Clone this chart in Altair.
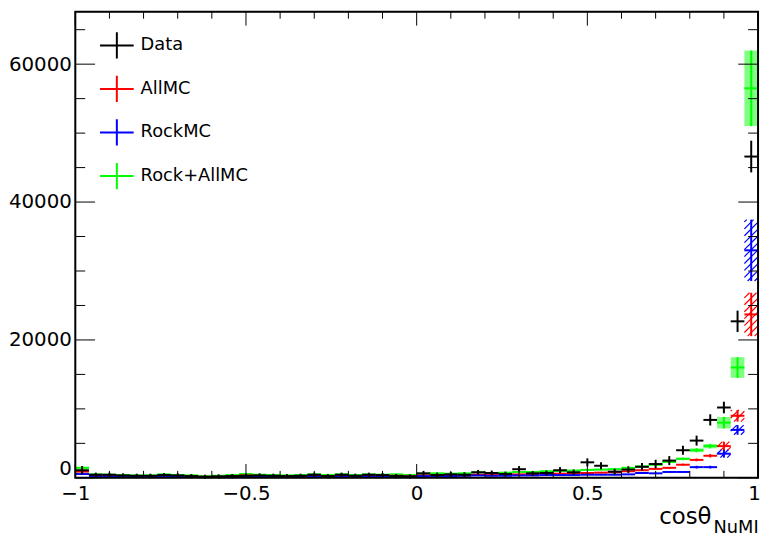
import altair as alt
import numpy as np
import pandas as pd

# ---------------- data (50 bins of cos theta, width 0.04) ----------------
bin_edges = np.round(np.linspace(-1.0, 1.0, 51), 2)

data_counts = [1100, 450, 450, 350, 300, 300, 400, 350, 250, 150,
               200, 250, 300, 350, 300, 250, 300, 450, 250, 450,
               300, 450, 400, 250, 200, 650, 400, 500, 450, 800,
               700, 550, 1250, 650, 700, 1100, 800, 2250, 1750, 900,
               1200, 1600, 2000, 2500, 4000, 5400, 8400, 10200, 22700, 46600]
data_errors = [600, 300, 300, 300, 300, 300, 300, 300, 300, 300,
               300, 300, 300, 300, 300, 300, 300, 300, 300, 300,
               300, 300, 300, 300, 300, 350, 350, 350, 350, 350,
               350, 350, 450, 350, 350, 450, 400, 570, 520, 420,
               480, 550, 620, 650, 650, 720, 810, 840, 1550, 2300]

allmc_counts = [900, 300, 250, 250, 200, 200, 300, 250, 200, 150,
                150, 250, 350, 250, 250, 200, 200, 300, 250, 300,
                250, 300, 250, 300, 250, 350, 400, 350, 350, 450,
                400, 450, 500, 500, 550, 600, 650, 700, 750, 800,
                950, 1100, 1300, 1450, 1900, 2600, 3200, 4600, 9000, 23700]
allmc_errors = [120, 60, 60, 60, 60, 60, 60, 60, 60, 60,
                60, 60, 60, 60, 60, 60, 60, 60, 60, 60,
                60, 60, 60, 60, 60, 60, 60, 60, 60, 70,
                70, 70, 70, 70, 70, 80, 80, 80, 80, 80,
                90, 100, 110, 120, 150, 200, 250, 650, 850, 3150]

rockmc_counts = [550, 200, 200, 150, 150, 150, 200, 150, 150, 100,
                 150, 150, 200, 200, 150, 150, 200, 200, 150, 200,
                 150, 200, 200, 200, 150, 250, 250, 250, 300, 350,
                 300, 300, 350, 350, 400, 400, 400, 450, 450, 450,
                 500, 700, 650, 850, 850, 1550, 1550, 3500, 6950, 33000]
rockmc_errors = [100, 50, 50, 50, 50, 50, 50, 50, 50, 50,
                 50, 50, 50, 50, 50, 50, 50, 50, 50, 50,
                 50, 50, 50, 50, 50, 50, 50, 50, 50, 60,
                 60, 60, 60, 60, 60, 60, 60, 60, 60, 60,
                 70, 80, 80, 90, 100, 200, 200, 570, 700, 4450]

sum_counts = [1450, 500, 450, 400, 350, 350, 500, 400, 350, 250,
              300, 400, 550, 450, 400, 350, 400, 500, 400, 500,
              400, 500, 450, 500, 400, 600, 650, 600, 650, 800,
              700, 750, 850, 850, 950, 1000, 1050, 1150, 1200, 1250,
              1450, 1650, 1900, 2300, 2750, 4000, 4600, 8000, 16000, 56500]
sum_errors = [160, 80, 80, 80, 80, 80, 80, 80, 80, 80,
              80, 80, 80, 80, 80, 80, 80, 80, 80, 80,
              80, 80, 80, 80, 80, 80, 80, 80, 80, 90,
              90, 90, 90, 90, 90, 100, 100, 100, 100, 100,
              110, 130, 140, 150, 180, 280, 320, 830, 1500, 5480]

series_names = ["Data", "AllMC", "RockMC", "Rock+AllMC"]
series_colors = ["#000000", "#ff0000", "#0000ff", "#00ff00"]

x_major = [-1.0, -0.5, 0.0, 0.5, 1.0]
x_minor = [-0.9, -0.8, -0.7, -0.6, -0.4, -0.3, -0.2, -0.1,
           0.1, 0.2, 0.3, 0.4, 0.6, 0.7, 0.8, 0.9]
y_major = [0, 20000, 40000, 60000]
y_minor = [5000, 10000, 15000, 25000, 30000, 35000, 45000, 50000, 55000, 65000]

# ---------------- tables ----------------
rows = []
for name, cnts, errs in [("Data", data_counts, data_errors),
                         ("AllMC", allmc_counts, allmc_errors),
                         ("RockMC", rockmc_counts, rockmc_errors),
                         ("Rock+AllMC", sum_counts, sum_errors)]:
    for i in range(50):
        lo, hi = float(bin_edges[i]), float(bin_edges[i + 1])
        rows.append({"series": name, "lo": lo, "hi": hi, "c": (lo + hi) / 2,
                     "v": cnts[i], "ylo": cnts[i] - errs[i], "yhi": cnts[i] + errs[i]})
df = pd.DataFrame(rows)
df_data = df[df.series == "Data"]
df_mc = df[df.series != "Data"]
mc_order = {"Rock+AllMC": 0, "AllMC": 1, "RockMC": 2}
df_mc = df_mc.assign(order=df_mc.series.map(mc_order)).sort_values("order")
df_green = df_mc[df_mc.series == "Rock+AllMC"]
df_hatch = df_mc[df_mc.series != "Rock+AllMC"]

W, H = 690, 471
YMAX = 67600
PX_X = W / 2.0          # pixels per unit of cos theta
PX_Y = H / YMAX         # pixels per count
FONT = "DejaVu Sans"

xs = alt.Scale(domain=[-1, 1], nice=False, zero=False)
ys = alt.Scale(domain=[0, YMAX], nice=False, zero=False)
xax = alt.Axis(values=x_major, format="~g", labelFontSize=20, labelFont=FONT,
               labelColor="#000000", ticks=False, domain=False, grid=False,
               labelPadding=6, labelFlush=False, title=None,
               labelOffset={"condition": {"test": "datum.value == 1", "value": -4}, "value": 0})
yax = alt.Axis(values=y_major, format="d", labelFontSize=20, labelFont=FONT,
               labelColor="#000000", ticks=False, domain=False, grid=False,
               labelPadding=4, labelFlush=False, title=None,
               labelOffset={"condition": {"test": "datum.value == 0", "value": -9}, "value": 0})

color = alt.Color("series:N", scale=alt.Scale(domain=series_names, range=series_colors),
                  legend=None)

# green error band (dotted fill in the original)
green_box = alt.Chart(df_green).mark_rect(color="#00ff00", opacity=0.5, strokeWidth=0).encode(
    x=alt.X("lo:Q", scale=xs, axis=xax), x2="hi:Q",
    y=alt.Y("ylo:Q", scale=ys, axis=yax), y2="yhi:Q")

# hatched error boxes for AllMC and RockMC
hatch = (alt.Chart(df_hatch)
         .transform_calculate(k="sequence(0, 16)")
         .transform_flatten(["k"])
         .transform_calculate(w=f"(datum.hi - datum.lo) * {PX_X}")
         .transform_calculate(h=f"(datum.yhi - datum.ylo) * {PX_Y}")
         .transform_calculate(cc="-datum.w + 7 * datum.k + 3.5")
         .transform_filter("datum.cc < datum.h && datum.h > 4")
         .transform_calculate(u0="max(0, -datum.cc)")
         .transform_calculate(u1="min(datum.w, datum.h - datum.cc)")
         .transform_calculate(hx=f"datum.lo + datum.u0 / {PX_X}")
         .transform_calculate(hx2=f"datum.lo + datum.u1 / {PX_X}")
         .transform_calculate(hy=f"datum.ylo + (datum.u0 + datum.cc) / {PX_Y}")
         .transform_calculate(hy2=f"datum.ylo + (datum.u1 + datum.cc) / {PX_Y}")
         .mark_rule(strokeWidth=1.2)
         .encode(x=alt.X("hx:Q", scale=xs, axis=xax), x2="hx2:Q",
                 y=alt.Y("hy:Q", scale=ys, axis=yax), y2="hy2:Q", color=color))

mc_h = alt.Chart(df_mc).mark_rule(strokeWidth=2).encode(
    x=alt.X("lo:Q", scale=xs, axis=xax), x2="hi:Q",
    y=alt.Y("v:Q", scale=ys, axis=yax), color=color)
mc_v = alt.Chart(df_mc).mark_rule(strokeWidth=2).encode(
    x=alt.X("c:Q", scale=xs, axis=xax),
    y=alt.Y("ylo:Q", scale=ys, axis=yax), y2="yhi:Q", color=color)
d_h = alt.Chart(df_data).mark_rule(strokeWidth=2).encode(
    x=alt.X("lo:Q", scale=xs, axis=xax), x2="hi:Q",
    y=alt.Y("v:Q", scale=ys, axis=yax), color=color)
d_v = alt.Chart(df_data).mark_rule(strokeWidth=2).encode(
    x=alt.X("c:Q", scale=xs, axis=xax),
    y=alt.Y("ylo:Q", scale=ys, axis=yax), y2="yhi:Q", color=color)

# ---- ticks (inside, ROOT style) ----
tx_major = pd.DataFrame({"t": x_major})
tx_minor = pd.DataFrame({"t": x_minor})
ty_major = pd.DataFrame({"t": y_major})
ty_minor = pd.DataFrame({"t": y_minor})


def xticks(df_t, length):
    b = alt.Chart(df_t).mark_rule(color="#000000", strokeWidth=1).encode(
        x=alt.X("t:Q", scale=xs, axis=xax), y=alt.value(H), y2=alt.value(H - length))
    t = alt.Chart(df_t).mark_rule(color="#000000", strokeWidth=1).encode(
        x=alt.X("t:Q", scale=xs, axis=xax), y=alt.value(0), y2=alt.value(length))
    return [b, t]


def yticks(df_t, length):
    l = alt.Chart(df_t).mark_rule(color="#000000", strokeWidth=1).encode(
        y=alt.Y("t:Q", scale=ys, axis=yax), x=alt.value(0), x2=alt.value(length))
    r = alt.Chart(df_t).mark_rule(color="#000000", strokeWidth=1).encode(
        y=alt.Y("t:Q", scale=ys, axis=yax), x=alt.value(W), x2=alt.value(W - length))
    return [l, r]


one = pd.DataFrame({"k": [0]})
frame = alt.Chart(one).mark_rect(fill="transparent", stroke="#000000", strokeWidth=2).encode(
    x=alt.value(0), x2=alt.value(W), y=alt.value(0), y2=alt.value(H))

title_main = alt.Chart(one).mark_text(text="cosθ", align="right", baseline="alphabetic",
                                      fontSize=23, font=FONT, color="#000000").encode(
    x=alt.value(643), y=alt.value(518))
title_sub = alt.Chart(one).mark_text(text="NuMI", align="left", baseline="alphabetic",
                                     fontSize=18, font=FONT, color="#000000").encode(
    x=alt.value(645), y=alt.value(527))

# ---- legend (ROOT TLegend look: error-cross symbols) ----
legend_layers = []
for idx, (name, col) in enumerate(zip(series_names, series_colors)):
    yc = 34 + 44 * idx
    sym = alt.Chart(one).mark_point(shape="M-1,0L1,0M0,-0.78L0,0.78", size=1156,
                                    filled=False, strokeWidth=2, color=col,
                                    opacity=1).encode(
        x=alt.value(42), y=alt.value(yc))
    lab = alt.Chart(one).mark_text(text=name, align="left", baseline="middle",
                                   fontSize=18, font=FONT, color="#000000").encode(
        x=alt.value(66), y=alt.value(yc))
    legend_layers += [sym, lab]

layers = ([green_box, hatch, mc_h, mc_v, d_h, d_v]
          + xticks(tx_major, 14) + xticks(tx_minor, 7)
          + yticks(ty_major, 20) + yticks(ty_minor, 10)
          + [frame, title_main, title_sub] + legend_layers)

chart = alt.layer(*layers).properties(
    width=W, height=H,
    padding={"left": 68, "top": 1, "right": 4, "bottom": 58},
    autosize=alt.AutoSizeParams(type="none"),
).configure_view(strokeWidth=0).configure(background="#ffffff")

chart.save("out.html", embed_options={"renderer": "svg", "actions": False})
